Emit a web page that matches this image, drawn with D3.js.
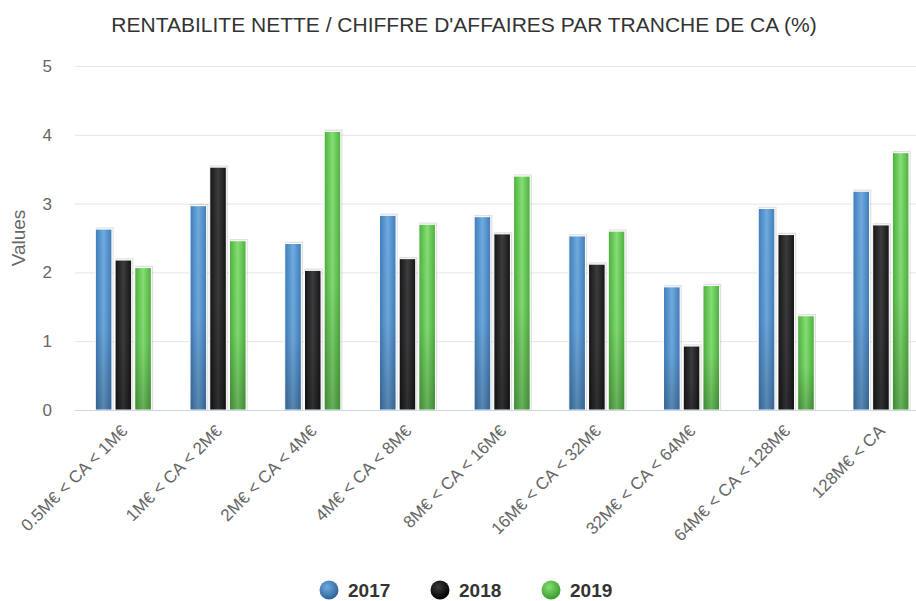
<!DOCTYPE html>
<html>
<head>
<meta charset="utf-8">
<script src="https://cdn.jsdelivr.net/npm/d3@7"></script>
<style>
  body { margin: 0; background: #fff; }
  text { font-family: "Liberation Sans", Arial, sans-serif; }
</style>
</head>
<body>
<script>
//grouped bar chart, rentabilite par tranche de CA

var w = 916;
var h = 601;

var categories = ["0.5M€ < CA < 1M€", "1M€ < CA < 2M€", "2M€ < CA < 4M€", "4M€ < CA < 8M€",
    "8M€ < CA < 16M€", "16M€ < CA < 32M€", "32M€ < CA < 64M€", "64M€ < CA < 128M€", "128M€ < CA"];
var series = ["2017", "2018", "2019"];
var values2017 = [2.63, 2.97, 2.42, 2.83, 2.81, 2.53, 1.79, 2.93, 3.18];
var values2018 = [2.18, 3.53, 2.03, 2.20, 2.56, 2.12, 0.93, 2.55, 2.69];
var values2019 = [2.07, 2.46, 4.05, 2.70, 3.40, 2.60, 1.81, 1.37, 3.74];
var yTicks = [0, 1, 2, 3, 4, 5];

var allValues = [values2017, values2018, values2019];

// colours: edge, centre, bottom
var palette = {
    "2017": ["#3f7bb8", "#6fabe0", "#2c6299"],
    "2018": ["#141414", "#3c3c40", "#000000"],
    "2019": ["#4cae3c", "#84df74", "#3d9a2c"]
};

var svg = d3.select("body")
    .append("svg")
    .attr("width", w)
    .attr("height", h);

var defs = svg.append("defs");

series.forEach(function(s) {
    var c = palette[s];
    var g = defs.append("linearGradient")
        .attr("id", "hg" + s)
        .attr("x1", 0).attr("x2", 1).attr("y1", 0).attr("y2", 0);
    g.append("stop").attr("offset", "0%").attr("stop-color", c[0]);
    g.append("stop").attr("offset", "50%").attr("stop-color", c[1]);
    g.append("stop").attr("offset", "100%").attr("stop-color", c[0]);

    var r = defs.append("radialGradient")
        .attr("id", "rg" + s)
        .attr("cx", "0.4").attr("cy", "0.35").attr("r", "0.65");
    r.append("stop").attr("offset", "0%").attr("stop-color", c[1]);
    r.append("stop").attr("offset", "100%").attr("stop-color", c[2]);
});

var vg = defs.append("linearGradient")
    .attr("id", "shade")
    .attr("x1", 0).attr("x2", 0).attr("y1", 0).attr("y2", 1);
vg.append("stop").attr("offset", "0%").attr("stop-color", "#000").attr("stop-opacity", 0);
vg.append("stop").attr("offset", "55%").attr("stop-color", "#000").attr("stop-opacity", 0.03);
vg.append("stop").attr("offset", "100%").attr("stop-color", "#000").attr("stop-opacity", 0.22);

var plotLeft = 76;
var band = 94.7;
var plotBottom = 410;
var plotTop = 66;

var x0 = d3.scaleBand()
    .domain(categories)
    .range([plotLeft, plotLeft + band * categories.length]);

var x1 = d3.scaleBand()
    .domain(series)
    .range([-28, 28])
    .paddingInner(0.16);

var y = d3.scaleLinear()
    .domain([0, 5])
    .range([plotBottom, plotTop]);

// title
svg.append("text")
    .attr("x", 464)
    .attr("y", 32)
    .attr("text-anchor", "middle")
    .attr("font-size", 21)
    .attr("fill", "#333")
    .text("RENTABILITE NETTE / CHIFFRE D'AFFAIRES PAR TRANCHE DE CA (%)");

// grid + y axis labels
var yAxis = svg.append("g")
    .attr("transform", "translate(" + 75 + ",0)")
    .call(d3.axisLeft(y).tickValues(yTicks).tickFormat(d3.format("d"))
        .tickSize(-(w - 75)).tickPadding(23));
yAxis.select(".domain").remove();
yAxis.selectAll(".tick line").attr("stroke", "#e6e6e6");
yAxis.selectAll(".tick text")
    .attr("fill", "#666")
    .attr("font-size", 17)
    .attr("font-family", "Liberation Sans, Arial, sans-serif");

svg.append("text")
    .attr("transform", "translate(25," + 238 + ") rotate(-90)")
    .attr("text-anchor", "middle")
    .attr("font-size", 19)
    .attr("fill", "#666")
    .text("Values");

// bars
var groups = svg.selectAll(".grp")
    .data(categories)
    .enter()
    .append("g")
    .attr("class", "grp")
    .attr("transform", function(d) { return "translate(" + (x0(d) + x0.bandwidth() / 2) + ",0)"; });

var bw = x1.bandwidth();

groups.each(function(cat, ci) {
    var g = d3.select(this);
    var rows = series.map(function(s, si) { return { s: s, v: allValues[si][ci] }; });

    // soft shadow
    g.selectAll(".sh")
        .data(rows)
        .enter()
        .append("rect")
        .attr("class", "sh")
        .attr("x", function(d) { return x1(d.s) + 1; })
        .attr("y", function(d) { return y(d.v) - 1; })
        .attr("width", bw)
        .attr("height", function(d) { return plotBottom - y(d.v) + 1; })
        .attr("fill", "none")
        .attr("stroke", "#000")
        .attr("stroke-opacity", 0.12)
        .attr("stroke-width", 1.5);

    g.selectAll(".bar")
        .data(rows)
        .enter()
        .append("rect")
        .attr("class", "bar")
        .attr("x", function(d) { return x1(d.s); })
        .attr("y", function(d) { return y(d.v); })
        .attr("width", bw)
        .attr("height", function(d) { return plotBottom - y(d.v); })
        .attr("fill", function(d) { return "url(#hg" + d.s + ")"; })
        .attr("stroke", "#fff")
        .attr("stroke-width", 1);

    g.selectAll(".shade")
        .data(rows)
        .enter()
        .append("rect")
        .attr("class", "shade")
        .attr("x", function(d) { return x1(d.s) + 0.5; })
        .attr("y", function(d) { return y(d.v) + 0.5; })
        .attr("width", bw - 1)
        .attr("height", function(d) { return plotBottom - y(d.v) - 1; })
        .attr("fill", "url(#shade)");
});

// x axis
svg.append("line")
    .attr("x1", 75).attr("x2", w)
    .attr("y1", plotBottom + 0.5).attr("y2", plotBottom + 0.5)
    .attr("stroke", "#ccd6eb");

svg.selectAll(".xlab")
    .data(categories)
    .enter()
    .append("text")
    .attr("class", "xlab")
    .attr("text-anchor", "end")
    .attr("font-size", 17)
    .attr("fill", "#666")
    .attr("transform", function(d) {
        return "translate(" + (x0(d) + x0.bandwidth() / 2 + 5) + "," + (plotBottom + 22) + ") rotate(-45)";
    })
    .text(function(d) { return d; });

// legend
var legendX = [329, 440, 551];
var legend = svg.selectAll(".leg")
    .data(series)
    .enter()
    .append("g")
    .attr("class", "leg")
    .attr("transform", function(d, i) { return "translate(" + legendX[i] + ",590)"; });

legend.append("circle")
    .attr("r", 9.5)
    .attr("fill", function(d) { return "url(#rg" + d + ")"; });

legend.append("text")
    .attr("x", 19)
    .attr("y", 7)
    .attr("font-size", 19)
    .attr("font-weight", "bold")
    .attr("fill", "#333")
    .text(function(d) { return d; });
</script>
</body>
</html>
